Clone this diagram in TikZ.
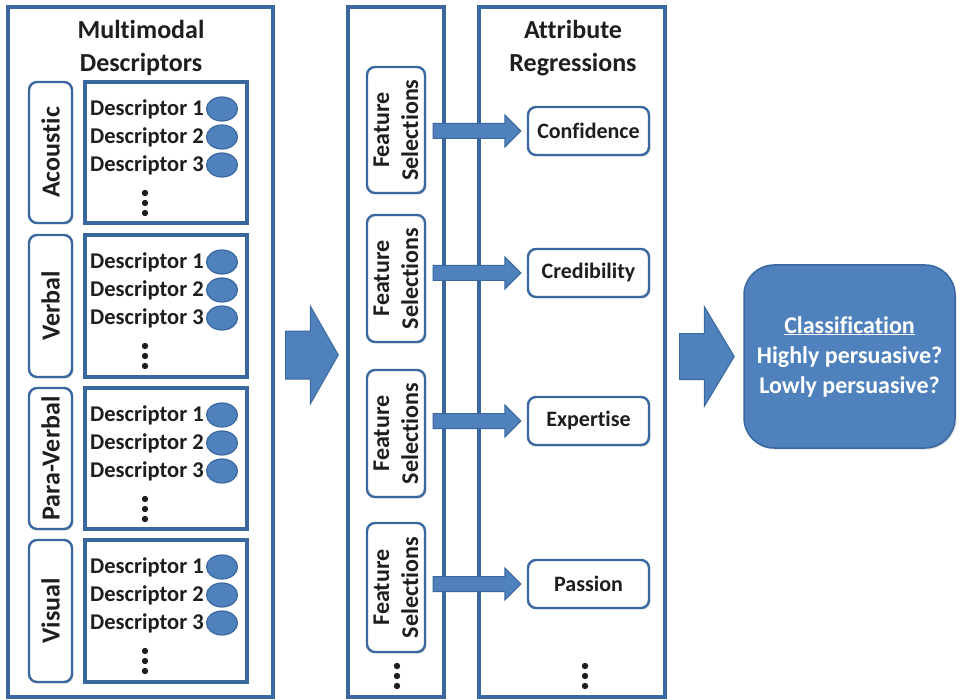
\documentclass[tikz,border=0pt]{standalone}
\usepackage{fontspec}
\setmainfont{Carlito}[Ligatures=NoCommon]
\usetikzlibrary{calc,shadows,shapes.geometric}
\definecolor{bord}{HTML}{3A679E}
\definecolor{bfill}{HTML}{4F81BD}
\definecolor{txt}{HTML}{1E1E1E}
\tikzset{
  shad/.style={drop shadow={shadow xshift=1.5pt,shadow yshift=-1.5pt,opacity=0.25,fill=gray}},
  panel/.style={draw=bord,line width=3.4pt,fill=white,inner sep=0pt},
  title/.style={align=center,text=txt,inner sep=0pt,font=\fontsize{26}{33}\selectfont\bfseries},
  lblbox/.style={shad,draw=bord,line width=2.4pt,fill=white,rounded corners=8pt,inner sep=0pt,rotate=90,
    text=txt,font=\fontsize{26}{30}\selectfont\bfseries},
  descbox/.style={draw=bord,line width=3.4pt,fill=white,inner sep=0pt,minimum width=162pt},
  dtext/.style={anchor=west,inner sep=0pt,text=txt,font=\fontsize{22.5}{24}\selectfont\bfseries},
  blob/.style={ellipse,draw=bord,line width=1.2pt,fill=bfill,minimum width=31pt,minimum height=24pt,inner sep=0pt},
  fsbox/.style={shad,draw=bord,line width=2.4pt,fill=white,rounded corners=8pt,inner sep=0pt,rotate=90,align=center,
    text=txt,font=\fontsize{24}{29}\selectfont\bfseries,minimum height=58pt},
  attr/.style={shad,draw=bord,line width=2.4pt,fill=white,rounded corners=8pt,inner sep=0pt,
    minimum width=121pt,minimum height=48pt,text=txt,font=\fontsize{22}{24}\selectfont\bfseries},
  cls/.style={shad,draw=bord,line width=1.5pt,fill=bfill,rounded corners=30pt,inner sep=0pt,
    minimum width=211pt,minimum height=183pt,align=center,text=white,font=\fontsize{24}{30}\selectfont\bfseries},
  barrow/.style={draw=bord,line width=1pt,fill=bfill,line join=miter},
  dotc/.style={fill=txt}
}
\newcommand\blockarr[5]{\draw[barrow] let \p1=#1, \p2=#2 in
  ({\x1},{\y1+#3}) -- ({\x2-#5},{\y1+#3}) -- ({\x2-#5},{\y1+#4}) -- (\x2,\y1) --
  ({\x2-#5},{\y1-#4}) -- ({\x2-#5},{\y1-#3}) -- ({\x1},{\y1-#3}) -- cycle;}
\newcommand\threedots[2]{\foreach \k in {0,1,2}{\fill[dotc] (#1,{#2+\k*10}) circle (3.2pt);}}
\begin{document}
\begin{tikzpicture}[x=1pt,y=-1pt]
\useasboundingbox (0,0) rectangle (960,700);
\fill[white] (0,0) rectangle (960,700);
% panels
\node[panel,minimum width=265pt,minimum height=690pt] (mm) at (140.5,352) {};
\node[panel,minimum width=96pt,minimum height=690pt] (mid) at (396,352) {};
\node[panel,minimum width=186pt,minimum height=690pt] (rt) at (572,352) {};
\node[title] (mmt) at (141,48) {Multimodal\\Descriptors};
\node[title] (rtt) at (573,48) {Attribute\\Regressions};
% descriptor groups
\foreach \nm/\t/\b/\id in {Acoustic/82/223/a, Verbal/235/377/v, Para-Verbal/388/529/p, Visual/540/682/s}{
  \pgfmathsetmacro\cy{(\t+\b)/2}
  \pgfmathsetmacro\hh{\b-\t}
  \node[lblbox,minimum width=\hh pt,minimum height=43pt] (lab\id) at (50.5,\cy) {\nm};
  \node[descbox,minimum height=\hh pt] (desc\id) at (166,\cy) {};
  \foreach \r/\o in {1/27,2/55,3/83}{
    \node[dtext] (d\id\r) at (90,{\t+\o}) {Descriptor \r};
    \node[blob] (e\id\r) at (222,{\t+\o}) {};
  }
  \threedots{145}{\t+111}
}
% feature selections
\node[fsbox,minimum width=126pt] (fs1) at (396,130) {Feature\\Selections};
\node[fsbox,minimum width=127pt] (fs2) at (396,278.5) {Feature\\Selections};
\node[fsbox,minimum width=127pt] (fs3) at (396,433.5) {Feature\\Selections};
\node[fsbox,minimum width=129pt] (fs4) at (396,587.5) {Feature\\Selections};
% attributes
\node[attr] (att1) at (588.5,131) {Confidence};
\node[attr] (att2) at (588.5,273) {Credibility};
\node[attr] (att3) at (588.5,421) {Expertise};
\node[attr] (att4) at (588.5,584) {Passion};
% rotated boxes: their south anchor is the right-hand side on the page
\foreach \i in {1,2,3,4}{
  \blockarr{($(fs\i.south |- att\i.west)+(7,0)$)}{($(att\i.west)+(-6,0)$)}{7.5pt}{16pt}{16pt}
}
\threedots{397}{666}
\threedots{585}{666}
% classification
\node[cls] (cl) at (849.5,356.5) {\underline{Classification}\\Highly persuasive?\\Lowly persuasive?};
\blockarr{($(mm.east)+(11,3)$)}{($(mid.west)+(-8,3)$)}{24pt}{49pt}{28pt}
\blockarr{($(rt.east |- cl.west)+(13,0)$)}{($(cl.west)+(-9,0)$)}{23pt}{50pt}{30pt}
\end{tikzpicture}
\end{document}
